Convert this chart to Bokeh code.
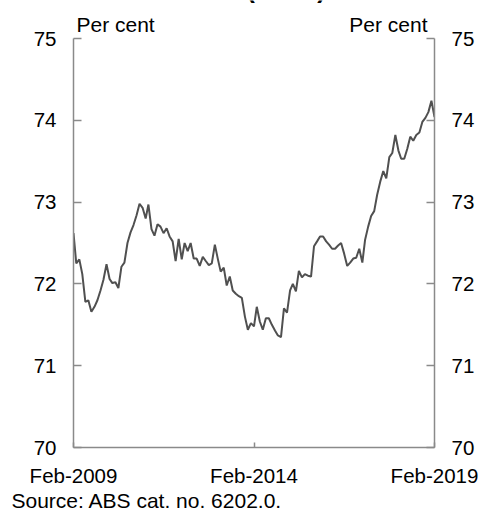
import pandas as pd
from bokeh.plotting import figure
from bokeh.models import (Range1d, LinearAxis, FixedTicker, DatetimeTickFormatter, Label, Title)
from bokeh.embed import file_html
from bokeh.resources import INLINE

# Monthly participation rate, Feb-2009 .. Feb-2019 (per cent)
start_month = "2009-02-01"
end_month = "2019-02-01"
rate = [
    72.62, 72.25, 72.30, 72.12, 71.78, 71.80, 71.66, 71.72, 71.80, 71.92,
    72.05, 72.24, 72.06, 72.01, 72.02, 71.95, 72.21, 72.26, 72.50, 72.63,
    72.72, 72.84, 72.98, 72.93, 72.80, 72.97, 72.67, 72.59, 72.73, 72.70,
    72.62, 72.68, 72.58, 72.52, 72.28, 72.55, 72.30, 72.50, 72.40, 72.50,
    72.31, 72.31, 72.22, 72.33, 72.28, 72.23, 72.25, 72.48, 72.30, 72.15,
    72.20, 71.98, 72.09, 71.92, 71.88, 71.85, 71.83, 71.60, 71.44, 71.52,
    71.48, 71.72, 71.54, 71.44, 71.58, 71.58, 71.50, 71.43, 71.37, 71.35,
    71.70, 71.65, 71.92, 72.00, 71.91, 72.16, 72.08, 72.12, 72.10, 72.09,
    72.46, 72.52, 72.58, 72.58, 72.52, 72.48, 72.43, 72.43, 72.47, 72.50,
    72.37, 72.22, 72.26, 72.31, 72.32, 72.43, 72.26, 72.54, 72.70, 72.83,
    72.89, 73.09, 73.25, 73.38, 73.29, 73.55, 73.60, 73.82, 73.63, 73.53,
    73.53, 73.65, 73.80, 73.75, 73.82, 73.85, 73.98, 74.03, 74.10, 74.24,
    74.04,
]
y_min, y_max = 70, 75
y_ticks = [70, 71, 72, 73, 74, 75]
x_tick_dates = ["2009-02-01", "2014-02-01", "2019-02-01"]
unit_label = "Per cent"
source_text = "Source: ABS cat. no. 6202.0."
title_text = "(trend)"

dates = pd.date_range(start_month, end_month, freq="MS")
x_ticks_ms = [pd.Timestamp(d).value / 1e6 for d in x_tick_dates]

FONT = "Liberation Sans"
AXIS_COLOR = "#8a8a8a"
W, H = 482, 509
BL, BR, BB = 73, 48, 62
PLOT_TOP = 38                      # pixel row of the 75 gridline
FW, FH = W - BL - BR, H - BB       # frame reaches the top of the canvas
axis_h = FH - PLOT_TOP
y_top = y_max + (y_max - y_min) * PLOT_TOP / axis_h

p = figure(width=W, height=H, x_axis_type="datetime",
           output_backend="svg", toolbar_location=None,
           x_range=Range1d(pd.Timestamp(start_month), pd.Timestamp(end_month)),
           y_range=Range1d(y_min, y_top),
           min_border_left=BL, min_border_right=BR,
           min_border_top=0, min_border_bottom=BB)
p.outline_line_color = None
p.grid.visible = False
p.background_fill_color = "white"
p.border_fill_color = "white"

p.line(dates, rate, line_color="#505050", line_width=2)

ly = p.yaxis[0]
ly.ticker = FixedTicker(ticks=y_ticks)
ry = LinearAxis(ticker=FixedTicker(ticks=y_ticks))
p.add_layout(ry, "right")
for ax in (ly, ry):
    ax.bounds = (y_min, y_max)
    ax.axis_line_color = AXIS_COLOR
    ax.axis_line_width = 1.5
    ax.major_tick_line_color = AXIS_COLOR
    ax.major_tick_line_width = 1.5
    ax.major_tick_in = 8
    ax.major_tick_out = 0
    ax.minor_tick_line_color = None
    ax.major_label_text_font = FONT
    ax.major_label_text_font_size = "20.5px"
    ax.major_label_text_color = "black"
    ax.major_label_standoff = 17

xa = p.xaxis[0]
xa.ticker = FixedTicker(ticks=x_ticks_ms)
fmt = "%b-%Y"
xa.formatter = DatetimeTickFormatter(microseconds=fmt, milliseconds=fmt, seconds=fmt,
                                     minsec=fmt, minutes=fmt, hourmin=fmt, hours=fmt,
                                     days=fmt, months=fmt, years=fmt)
xa.axis_line_color = AXIS_COLOR
xa.axis_line_width = 1.5
xa.major_tick_line_color = AXIS_COLOR
xa.major_tick_line_width = 1.5
xa.major_tick_in = 5
xa.major_tick_out = 0
xa.minor_tick_line_color = None
xa.major_label_text_font = FONT
xa.major_label_text_font_size = "20.5px"
xa.major_label_text_color = "black"
xa.major_label_standoff = 16

common = dict(x_units="screen", y_units="screen", text_font=FONT,
              text_color="black", text_baseline="alphabetic")
p.add_layout(Label(x=3, y=FH - 23.5, text=unit_label, text_align="left",
                   text_font_size="21px", **common))
p.add_layout(Label(x=FW - 7, y=FH - 23.5, text=unit_label, text_align="right",
                   text_font_size="21px", **common))
p.add_layout(Label(x=212.5, y=FH + 11.5, text=title_text, text_align="center",
                   text_font_size="25px", text_font_style="bold", **common))

p.add_layout(Title(text=source_text, align="left", offset=-62, standoff=-6,
                   text_font=FONT, text_font_size="21px", text_font_style="normal",
                   text_color="black"), "below")

open("out.html", "w").write(file_html(p, INLINE))
